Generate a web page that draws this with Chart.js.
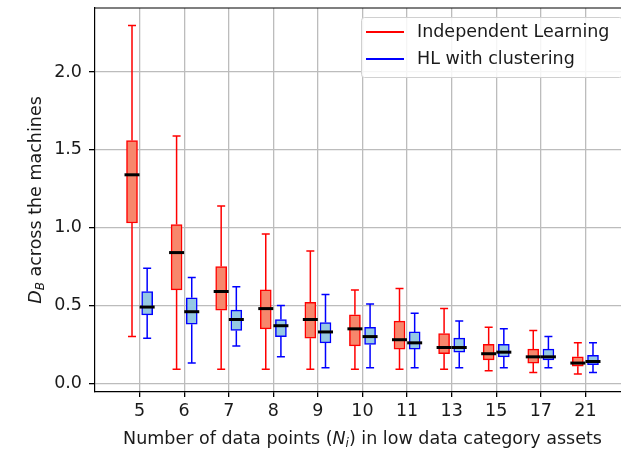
<!DOCTYPE html>
<html>
<head>
<meta charset="utf-8">
<script src="https://cdn.jsdelivr.net/npm/chart.js@4.4.1/dist/chart.umd.min.js"></script>
<style>
  html, body { margin: 0; padding: 0; background: #fff; }
  #wrap { width: 621px; height: 449px; overflow: hidden; position: relative; }
  canvas { display: block; }
</style>
</head>
<body>
<div id="wrap"><canvas id="boxChart" width="640" height="449"></canvas></div>
<script>
const categories = ['5', '6', '7', '8', '9', '10', '11', '13', '15', '17', '21'];

// Independent Learning
const ilLow  = [0.30, 0.09, 0.09, 0.09, 0.09, 0.09, 0.09, 0.09, 0.08, 0.07, 0.06];
const ilQ1   = [1.03, 0.60, 0.47, 0.35, 0.29, 0.24, 0.22, 0.19, 0.15, 0.13, 0.11];
const ilMed  = [1.34, 0.84, 0.59, 0.48, 0.41, 0.35, 0.28, 0.23, 0.19, 0.17, 0.13];
const ilQ3   = [1.56, 1.02, 0.75, 0.60, 0.52, 0.44, 0.40, 0.32, 0.25, 0.22, 0.17];
const ilHigh = [2.30, 1.59, 1.14, 0.96, 0.85, 0.60, 0.61, 0.48, 0.36, 0.34, 0.26];

// HL with clustering
const hlLow  = [0.29, 0.13, 0.24, 0.17, 0.10, 0.10, 0.10, 0.10, 0.10, 0.10, 0.07];
const hlQ1   = [0.44, 0.38, 0.34, 0.30, 0.26, 0.25, 0.22, 0.20, 0.17, 0.15, 0.12];
const hlMed  = [0.49, 0.46, 0.41, 0.37, 0.33, 0.30, 0.26, 0.23, 0.20, 0.17, 0.14];
const hlQ3   = [0.59, 0.55, 0.47, 0.41, 0.39, 0.36, 0.33, 0.29, 0.25, 0.22, 0.18];
const hlHigh = [0.74, 0.68, 0.62, 0.50, 0.57, 0.51, 0.45, 0.40, 0.35, 0.30, 0.26];

const yTicks = [0, 0.5, 1.0, 1.5, 2.0];

const FONT = 'DejaVu Sans';
const FS = 17.5;
const TEXT = '#1a1a1a';
const OFFSET = 0.17;

function boxData(q1, q3, shift) {
    return categories.map((c, i) => ({ x: i + 1 + shift, y: [q1[i], q3[i]] }));
}

// whiskers, caps, medians, top spine, legend and axis titles
const boxParts = {
    id: 'boxParts',
    beforeDatasetsDraw(chart) {
        const ctx = chart.ctx;
        const y = chart.scales.y;
        chart.data.datasets.forEach((ds, di) => {
            const meta = chart.getDatasetMeta(di);
            ctx.save();
            ctx.strokeStyle = ds.borderColor;
            ctx.lineWidth = 1.5;
            meta.data.forEach((bar, i) => {
                const lo = y.getPixelForValue(ds.low[i]);
                const hi = y.getPixelForValue(ds.high[i]);
                const q1 = y.getPixelForValue(ds.data[i].y[0]);
                const q3 = y.getPixelForValue(ds.data[i].y[1]);
                ctx.beginPath();
                ctx.moveTo(bar.x, q1); ctx.lineTo(bar.x, lo);
                ctx.moveTo(bar.x, q3); ctx.lineTo(bar.x, hi);
                ctx.moveTo(bar.x - 4, lo); ctx.lineTo(bar.x + 4, lo);
                ctx.moveTo(bar.x - 4, hi); ctx.lineTo(bar.x + 4, hi);
                ctx.stroke();
            });
            ctx.restore();
        });
    },
    afterDatasetsDraw(chart) {
        const ctx = chart.ctx;
        const y = chart.scales.y;
        ctx.save();
        ctx.strokeStyle = '#000';
        ctx.lineWidth = 3;
        chart.data.datasets.forEach((ds, di) => {
            chart.getDatasetMeta(di).data.forEach((bar, i) => {
                const m = y.getPixelForValue(ds.median[i]);
                ctx.beginPath();
                ctx.moveTo(bar.x - 7.5, m); ctx.lineTo(bar.x + 7.5, m);
                ctx.stroke();
            });
        });
        ctx.restore();
    },
    afterDraw(chart) {
        const ctx = chart.ctx;
        const a = chart.chartArea;
        ctx.save();
        // top spine
        ctx.strokeStyle = '#000';
        ctx.lineWidth = 1.2;
        ctx.beginPath();
        ctx.moveTo(a.left, a.top); ctx.lineTo(a.right, a.top);
        ctx.stroke();

        // legend
        const lx = 361, ly = 17, lw = 261, lh = 60;
        ctx.fillStyle = 'rgba(255,255,255,0.85)';
        ctx.strokeStyle = '#d0d0d0';
        ctx.lineWidth = 1;
        ctx.beginPath();
        ctx.roundRect(lx + 0.5, ly + 0.5, lw, lh, 3);
        ctx.fill();
        ctx.stroke();
        ctx.font = FS + 'px "' + FONT + '"';
        ctx.textBaseline = 'middle';
        chart.data.datasets.forEach((ds, di) => {
            const ry = 32 + di * 27;
            ctx.strokeStyle = ds.borderColor;
            ctx.lineWidth = 2;
            ctx.beginPath();
            ctx.moveTo(366, ry); ctx.lineTo(404, ry);
            ctx.stroke();
            ctx.fillStyle = TEXT;
            ctx.fillText(ds.label, 417, ry);
        });

        // x axis title with italic N and subscript i
        ctx.textBaseline = 'alphabetic';
        const xParts = [
            ['Number of data points (', FS + 'px "' + FONT + '"', 0],
            ['N', 'italic ' + FS + 'px "' + FONT + '"', 0],
            ['i', 'italic 12px "' + FONT + '"', 3],
            [') in low data category assets', FS + 'px "' + FONT + '"', 0]
        ];
        let total = 0;
        xParts.forEach(p => { ctx.font = p[1]; total += ctx.measureText(p[0]).width; });
        let cx = (a.left + a.right) / 2 - total / 2;
        ctx.fillStyle = TEXT;
        xParts.forEach(p => {
            ctx.font = p[1];
            ctx.fillText(p[0], cx, 444 + p[2]);
            cx += ctx.measureText(p[0]).width;
        });

        // y axis title with italic D and subscript B
        ctx.translate(41, 200);
        ctx.rotate(-Math.PI / 2);
        const yParts = [
            ['D', 'italic ' + FS + 'px "' + FONT + '"', 0],
            ['B', 'italic 12px "' + FONT + '"', 3],
            [' across the machines', FS + 'px "' + FONT + '"', 0]
        ];
        total = 0;
        yParts.forEach(p => { ctx.font = p[1]; total += ctx.measureText(p[0]).width; });
        cx = -total / 2;
        yParts.forEach(p => {
            ctx.font = p[1];
            ctx.fillText(p[0], cx, p[2]);
            cx += ctx.measureText(p[0]).width;
        });
        ctx.restore();
    }
};

new Chart(document.getElementById('boxChart'), {
    type: 'bar',
    data: {
        datasets: [{
            label: 'Independent Learning',
            data: boxData(ilQ1, ilQ3, -OFFSET),
            low: ilLow,
            median: ilMed,
            high: ilHigh,
            backgroundColor: '#f7876c',
            borderColor: '#ff0000',
            borderWidth: 1.5,
            borderSkipped: false,
            barThickness: 11,
            grouped: false
        }, {
            label: 'HL with clustering',
            data: boxData(hlQ1, hlQ3, OFFSET),
            low: hlLow,
            median: hlMed,
            high: hlHigh,
            backgroundColor: '#95c8e3',
            borderColor: '#0000ff',
            borderWidth: 1.5,
            borderSkipped: false,
            barThickness: 11,
            grouped: false
        }]
    },
    options: {
        responsive: false,
        animation: false,
        devicePixelRatio: 1,
        layout: { padding: { top: 8, right: 10, left: 0, bottom: 0 } },
        plugins: {
            legend: { display: false },
            tooltip: { enabled: false }
        },
        scales: {
            x: {
                type: 'linear',
                min: 0,
                max: 12,
                offset: false,
                afterBuildTicks: s => { s.ticks = categories.map((c, i) => ({ value: i + 1 })); },
                afterFit: s => { s.height = 57; s.paddingLeft = 0; s.paddingRight = 0; },
                ticks: {
                    autoSkip: false,
                    maxRotation: 0,
                    padding: 4,
                    color: TEXT,
                    font: { family: FONT, size: FS },
                    callback: v => categories[v - 1]
                },
                grid: { offset: false, color: '#bcbcbc', lineWidth: 1.3, tickColor: '#000', tickLength: 5 },
                border: { color: '#000', width: 1.2 }
            },
            y: {
                min: -0.056,
                max: 2.412,
                afterBuildTicks: s => { s.ticks = yTicks.map(v => ({ value: v })); },
                afterFit: s => { s.width = 95; s.paddingTop = 0; s.paddingBottom = 0; },
                ticks: {
                    padding: 7,
                    color: TEXT,
                    font: { family: FONT, size: FS },
                    callback: v => v.toFixed(1)
                },
                grid: { color: '#bcbcbc', lineWidth: 1.3, tickColor: '#000', tickLength: 6 },
                border: { color: '#000', width: 1.2 }
            }
        }
    },
    plugins: [boxParts]
});
</script>
</body>
</html>
